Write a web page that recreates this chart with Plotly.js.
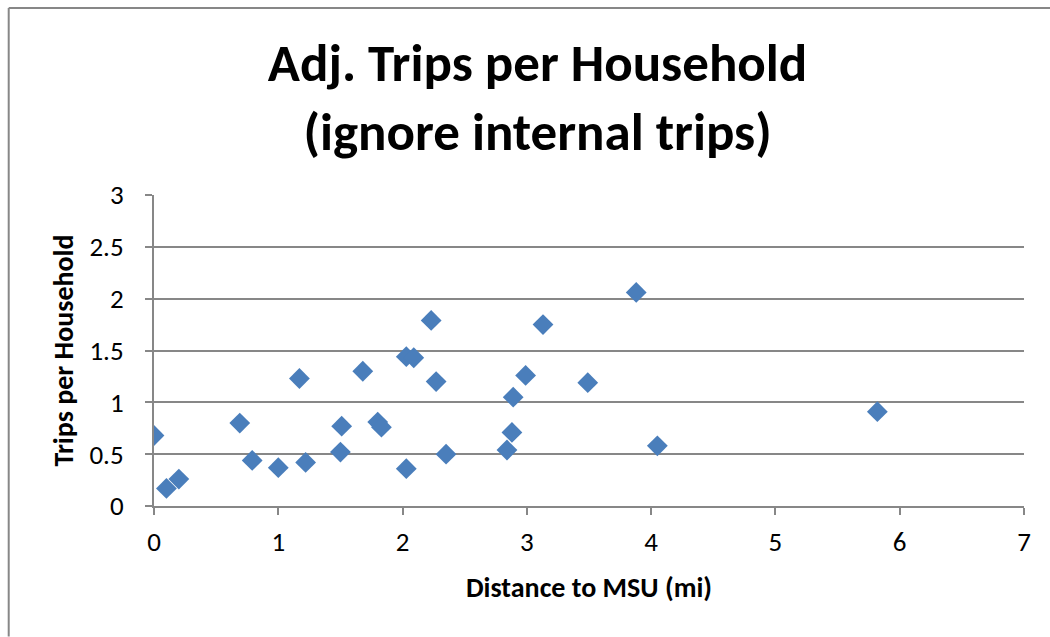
<!DOCTYPE html>
<html>
<head>
<meta charset="utf-8">
<script src="https://cdn.plot.ly/plotly-3.0.1.min.js"></script>
<style>
html,body{margin:0;padding:0;background:#fff;}
#chart{width:1050px;height:637px;}
</style>
</head>
<body>
<div id="chart"></div>
<script>
const distance = [0, 0.10, 0.20, 0.69, 0.79, 1.0, 1.17, 1.22, 1.50, 1.51, 1.68, 1.80, 1.83, 2.03, 2.03, 2.09, 2.23, 2.27, 2.35, 2.84, 2.88, 2.89, 2.99, 3.13, 3.49, 3.88, 4.05, 5.82];
const tripsPerHousehold = [0.68, 0.17, 0.26, 0.80, 0.44, 0.37, 1.23, 0.42, 0.52, 0.77, 1.30, 0.81, 0.76, 0.36, 1.44, 1.43, 1.79, 1.20, 0.50, 0.54, 0.71, 1.05, 1.26, 1.75, 1.19, 2.06, 0.58, 0.91];
const chartTitle = "Adj. Trips per Household<br>(ignore internal trips)";
const xTitle = "Distance to MSU (mi)";
const yTitle = "Trips per Household";

const font = "Carlito, 'Liberation Sans Narrow', 'Open Sans', sans-serif";
const gray = "#878787";

const trace = {
  type: "scatter",
  mode: "markers",
  x: distance,
  y: tripsPerHousehold,
  marker: {symbol: "diamond", size: 16, color: "#4a7ebb", line: {width: 0}},
  hoverinfo: "x+y"
};

const layout = {
  width: 1050, height: 637,
  margin: {l: 154, r: 26, t: 195, b: 131},
  paper_bgcolor: "#fff", plot_bgcolor: "#fff",
  showlegend: false,
  font: {family: font, color: "#000"},
  title: {
    text: chartTitle,
    font: {family: font, size: 53, weight: 700, color: "#000"},
    x: 0.512, xanchor: "center", xref: "container",
    y: 0.873, yanchor: "middle", yref: "container"
  },
  xaxis: {
    range: [0, 7], dtick: 1, tick0: 0,
    showgrid: false, zeroline: false,
    showline: true, linecolor: gray, linewidth: 2,
    ticks: "outside", ticklen: 7, tickwidth: 2, tickcolor: gray,
    tickfont: {size: 27, color: "#000"},
    ticklabelstandoff: 4,
    title: {text: xTitle, font: {size: 28, weight: 700, color: "#000"}, standoff: 20},
    fixedrange: true
  },
  yaxis: {
    range: [0, 3], dtick: 0.5, tick0: 0,
    showgrid: true, gridcolor: gray, gridwidth: 2,
    zeroline: false,
    showline: true, linecolor: gray, linewidth: 2,
    ticks: "outside", ticklen: 7, tickwidth: 2, tickcolor: gray,
    tickfont: {size: 27, color: "#000"},
    ticklabelstandoff: 16,
    title: {text: yTitle, font: {size: 28, weight: 700, color: "#000"}, standoff: 8},
    fixedrange: true
  },
  shapes: [
    {type: "line", xref: "paper", yref: "paper", x0: -0.167, x1: -0.167, y0: 1.601, y1: -0.42, line: {color: gray, width: 2}},
    {type: "line", xref: "paper", yref: "paper", x0: -0.167, x1: 1.04, y0: 1.601, y1: 1.601, line: {color: gray, width: 2}}
  ]
};

Plotly.newPlot("chart", [trace], layout, {displayModeBar: false, staticPlot: true});
</script>
</body>
</html>
